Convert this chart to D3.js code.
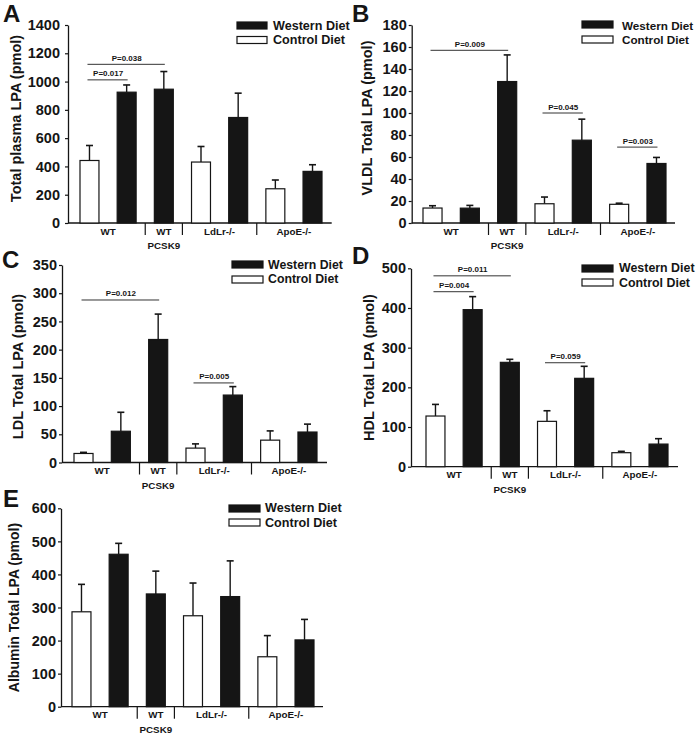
<!DOCTYPE html>
<html>
<head>
<meta charset="utf-8">
<script src="https://cdn.jsdelivr.net/npm/d3@7"></script>
<style>
  html, body { margin: 0; padding: 0; background: #fff; }
  svg { display: block; }
  text { font-family: "Liberation Sans", Arial, Helvetica, sans-serif; font-weight: bold; fill: #151515; }
</style>
</head>
<body>
<div id="chart"></div>
<script>
// ---------------- DATA ----------------
const groupLabels = ["WT", "WT", "LdLr-/-", "ApoE-/-"];
const subLabel = "PCSK9";
const barGroup = [0, 0, 1, 2, 2, 3, 3];
const barDiet = ["Control", "Western", "Western", "Control", "Western", "Control", "Western"];
const legendLabels = ["Western Diet", "Control Diet"];

const panelLetters = ["A", "B", "C", "D", "E"];
const yTitles = ["Total plasma LPA (pmol)", "VLDL Total LPA (pmol)", "LDL Total LPA (pmol)",
                 "HDL Total LPA (pmol)", "Albumin Total LPA (pmol)"];
const yMaxes = [1400, 180, 350, 500, 600];
const yStepsTick = [200, 20, 50, 100, 100];

const meansA = [442, 925, 946, 431, 746, 242, 365];
const semA   = [106, 51, 125, 110, 172, 62, 47];
const meansB = [13.6, 13.5, 128.6, 17.5, 75.3, 17.0, 54.1];
const semB   = [2.1, 2.5, 24.2, 6.1, 19.1, 1.0, 5.5];
const meansC = [16, 55.4, 218, 25.5, 119.5, 39.6, 54];
const semC   = [2, 33.6, 45, 7.5, 15, 16.4, 14];
const meansD = [127.7, 395.8, 263, 114.3, 222.7, 35.3, 57];
const semD   = [29.3, 32.8, 7.6, 26.7, 30.3, 3.4, 13.6];
const meansE = [287, 461, 341, 275, 333, 151, 202];
const semE   = [83, 33, 69, 99, 108, 64, 62];

const sigA = [{a: 0, b: 2, y: 1122, label: "P=0.038"}, {a: 0, b: 1, y: 1012, label: "P=0.017"}];
const sigB = [{a: 0, b: 2, y: 157, label: "P=0.009"}, {a: 3, b: 4, y: 100, label: "P=0.045"}, {a: 5, b: 6, y: 69, label: "P=0.003"}];
const sigC = [{a: 0, b: 2, y: 288, label: "P=0.012"}, {a: 3, b: 4, y: 141, label: "P=0.005"}];
const sigD = [{a: 0, b: 2, y: 481, label: "P=0.011"}, {a: 0, b: 1, y: 441, label: "P=0.004"}, {a: 3, b: 4, y: 262, label: "P=0.059"}];
const sigE = [];

const allMeans = [meansA, meansB, meansC, meansD, meansE];
const allSem = [semA, semB, semC, semD, semE];
const allSig = [sigA, sigB, sigC, sigD, sigE];

// ---------------- LAYOUT ----------------
const layout = [
  {ax0: 68,    ax1: 331.7, b0: 80,  b1: 322, yZero: 223,   yTop: 25,    lx: 3,   ly: 22,  tx: 20.5,  ty: 118.5, tfs: 14.5, tp: 5,
   legRx: 237, legRw: 30, legR: [22, 36.5], legTx: 273, legTy: [30, 44], lfs: 12.6},
  {ax0: 411.7, ax1: 675,   b0: 423, b1: 666, yZero: 223,   yTop: 25,    lx: 352, ly: 22,  tx: 371.5, ty: 118,   tfs: 14.5, tp: 2,
   legRx: 582, legRw: 31, legR: [21, 36],   legTx: 622, legTy: [30, 44], lfs: 11.7},
  {ax0: 62,    ax1: 327,   b0: 74,  b1: 317, yZero: 462.5, yTop: 265,   lx: 2,   ly: 268, tx: 22.5,  ty: 366.5, tfs: 14.5, tp: 2,
   legRx: 232, legRw: 31, legR: [261, 276], legTx: 268, legTy: [269, 283], lfs: 12.3},
  {ax0: 411,   ax1: 678,   b0: 426, b1: 668, yZero: 466.7, yTop: 268.3, lx: 352, ly: 264, tx: 373.5, ty: 367.5, tfs: 14.5, tp: 2,
   legRx: 582, legRw: 31, legR: [265, 279], legTx: 619, legTy: [272, 286.5], lfs: 12.4},
  {ax0: 61,    ax1: 323,   b0: 72,  b1: 314, yZero: 706.7, yTop: 508.3, lx: 3,   ly: 507, tx: 18.5,  ty: 607.5, tfs: 14,   tp: 2,
   legRx: 229, legRw: 31, legR: [505, 519], legTx: 265, legTy: [512, 526.5], lfs: 12.6}
];

const W = 697, H = 734;
const svg = d3.select("#chart").append("svg").attr("width", W).attr("height", H);
const ink = "#151515";

layout.forEach((L, p) => {
  const means = allMeans[p], sem = allSem[p], sig = allSig[p];
  const g = svg.append("g");
  const idx = d3.range(means.length);

  const x = d3.scaleBand().domain(idx).range([L.b0, L.b1]).paddingInner(0.49).paddingOuter(0);
  const y = d3.scaleLinear().domain([0, yMaxes[p]]).range([L.yZero, L.yTop]);
  const cx = i => x(i) + x.bandwidth() / 2;

  // y axis
  const yAxis = d3.axisLeft(y)
    .tickValues(d3.range(0, yMaxes[p] + 0.001, yStepsTick[p]))
    .tickSize(3).tickSizeOuter(0).tickPadding(L.tp)
    .tickFormat(d3.format("d"));
  const ya = g.append("g").attr("transform", `translate(${L.ax0},0)`).call(yAxis);
  ya.select(".domain").attr("stroke", ink).attr("stroke-width", 1.3);
  ya.selectAll(".tick line").attr("stroke", ink).attr("stroke-width", 1.2);
  ya.selectAll(".tick text").attr("font-size", 14.5)
    .attr("font-family", '"Liberation Sans", Arial, sans-serif').attr("font-weight", "bold").attr("fill", ink);

  // x axis baseline
  g.append("line").attr("x1", L.ax0).attr("x2", L.ax1).attr("y1", L.yZero).attr("y2", L.yZero)
    .attr("stroke", ink).attr("stroke-width", 1.3);

  // separators between groups
  const seps = [];
  for (let i = 1; i < means.length; i++) if (barGroup[i] !== barGroup[i - 1] || i === 2) seps.push((cx(i - 1) + cx(i)) / 2);
  g.selectAll(".sep").data(seps).enter().append("line")
    .attr("x1", d => d).attr("x2", d => d).attr("y1", L.yZero).attr("y2", L.yZero + 12)
    .attr("stroke", ink).attr("stroke-width", 1.2);

  // group labels
  groupLabels.forEach((lab, gi) => {
    const members = idx.filter(i => barGroup[i] === gi);
    const c = d3.mean(members, cx);
    g.append("text").attr("x", c).attr("y", L.yZero + 11.5).attr("text-anchor", "middle")
      .attr("font-size", 9.8).text(lab);
  });
  g.append("text").attr("x", cx(2)).attr("y", L.yZero + 26).attr("text-anchor", "middle")
    .attr("font-size", 9.8).text(subLabel);

  // error bars
  idx.forEach(i => {
    const top = y(means[i] + sem[i]);
    g.append("line").attr("x1", cx(i)).attr("x2", cx(i)).attr("y1", y(means[i])).attr("y2", top)
      .attr("stroke", ink).attr("stroke-width", 1.4);
    g.append("line").attr("x1", cx(i) - 3.5).attr("x2", cx(i) + 3.5).attr("y1", top).attr("y2", top)
      .attr("stroke", ink).attr("stroke-width", 1.6);
  });

  // bars
  g.selectAll(".bar").data(idx).enter().append("rect")
    .attr("x", i => x(i)).attr("width", x.bandwidth())
    .attr("y", i => y(means[i])).attr("height", i => y(0) - y(means[i]))
    .attr("fill", i => barDiet[i] === "Western" ? ink : "#fff")
    .attr("stroke", ink).attr("stroke-width", 1.2);

  // significance annotations
  sig.forEach(s => {
    const yy = y(s.y);
    g.append("line").attr("x1", cx(s.a) - 2).attr("x2", cx(s.b) + 1).attr("y1", yy).attr("y2", yy)
      .attr("stroke", "#333").attr("stroke-width", 1);
    g.append("text").attr("x", (cx(s.a) + cx(s.b)) / 2).attr("y", yy - 3.5).attr("text-anchor", "middle")
      .attr("font-size", 8).text(s.label);
  });

  // y title
  g.append("text").attr("transform", `translate(${L.tx},${L.ty}) rotate(-90)`)
    .attr("text-anchor", "middle").attr("font-size", L.tfs).text(yTitles[p]);

  // panel letter
  g.append("text").attr("x", L.lx).attr("y", L.ly).attr("font-size", 24).text(panelLetters[p]);

  // legend
  legendLabels.forEach((lab, k) => {
    g.append("rect").attr("x", L.legRx).attr("y", L.legR[k]).attr("width", L.legRw).attr("height", 7)
      .attr("fill", k === 0 ? ink : "#fff").attr("stroke", ink).attr("stroke-width", 1.2);
    g.append("text").attr("x", L.legTx).attr("y", L.legTy[k]).attr("font-size", L.lfs).text(lab);
  });
});
</script>
</body>
</html>
